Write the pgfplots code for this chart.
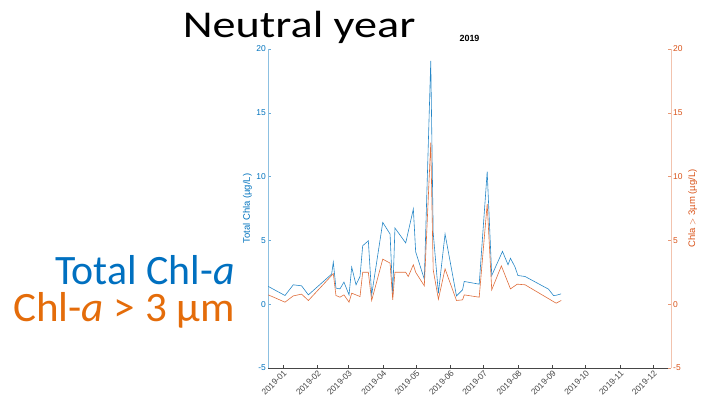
\documentclass[border=0pt]{standalone}
\usepackage{pgfplots}
\pgfplotsset{compat=1.18}
\usepackage{pgfplotstable}
\usepackage{fontspec}
\setmainfont{Carlito}
\newfontfamily\plotfont{Liberation Sans}

\definecolor{mblue}{RGB}{0,114,189}
\definecolor{morange}{RGB}{217,83,25}
\definecolor{axgray}{RGB}{70,70,70}
\definecolor{pblue}{RGB}{0,112,192}
\definecolor{porange}{RGB}{228,108,10}

% day = days since 2019-01-01, value in ug/L
\pgfplotstableread{
day   chl
-13.2 1.39
1.8   0.68
9.3   1.52
16.8  1.44
22.9  0.73
43.9  2.36
45.4  3.30
47.8  1.26
51.4  1.20
55.0  1.73
59.6  0.73
62.0  2.90
65.9  1.52
69.5  2.17
71.9  4.58
77.0  4.97
80.0  0.73
90.0  6.41
96.6  5.50
99.0  0.73
101.0 5.97
110.7 4.80
117.6 7.46
119.7 4.10
127.5 1.96
133.3 19.07
135.5 5.60
140.2 0.86
146.2 5.50
156.5 0.65
162.0 1.13
163.5 1.78
177.0 1.57
184.2 10.38
188.3 2.25
198.0 4.14
203.0 3.09
205.2 3.60
209.4 2.90
211.9 2.25
218.4 2.17
239.5 1.18
244.0 0.68
246.4 0.70
250.9 0.81
}\totaltab

\pgfplotstableread{
day   chl
-13.2 0.73
1.8   0.16
9.3   0.65
16.8  0.79
22.9  0.29
43.9  2.25
45.4  2.40
47.8  0.68
51.4  0.55
55.0  0.73
59.6  0.16
62.0  0.86
65.9  0.73
69.5  0.60
71.9  2.50
77.0  2.50
80.0  0.29
90.0  3.53
96.6  3.22
99.0  0.34
101.0 2.50
110.7 2.50
113.0 2.17
117.6 3.09
119.7 2.50
127.5 1.44
133.3 12.66
135.5 2.70
140.2 0.39
146.2 2.77
156.5 0.29
162.0 0.34
163.5 0.73
177.0 0.55
184.2 7.85
188.3 1.13
197.0 3.00
205.2 1.20
211.3 1.57
218.4 1.52
246.4 0.08
250.9 0.29
}\largetab

\pgfplotsset{
  chlaxis/.style={
    at={(268bp,36bp)}, anchor=south west,
    scale only axis, width=403bp, height=319bp,
    xmin=-13.5, xmax=350, ymin=-5, ymax=20,
    ytick={-5,0,5,10,15,20},
    tick label style={font=\plotfont\fontsize{8.5}{10}\selectfont},
    /pgf/number format/assume math mode=true,
    major tick length=3bp,
    tick style={line width=0.5bp},
  },
}

\begin{document}
\begin{tikzpicture}
\useasboundingbox (0,0) rectangle (702bp,404bp);

% left axis: total chlorophyll
\begin{axis}[chlaxis,
  axis x line*=bottom, axis y line*=left,
  x axis line style={axgray, line width=0.6bp},
  y axis line style={mblue!45, line width=0.6bp},
  xtick={0,31,59,90,120,151,181,212,243,273,304,334},
  xticklabels={2019-01,2019-02,2019-03,2019-04,2019-05,2019-06,2019-07,2019-08,2019-09,2019-10,2019-11,2019-12},
  x tick label style={rotate=45, anchor=north east, text=axgray, inner sep=1bp},
  xtick style={axgray},
  y tick label style={text=mblue, inner sep=2bp},
  ytick style={mblue!60},
  ylabel={Total Chla (\textmu g/L)},
  ylabel style={font=\plotfont\fontsize{9.5}{11}\selectfont, text=mblue, yshift=-1bp},
  title={2019},
  title style={font=\plotfont\bfseries\fontsize{9}{10}\selectfont, yshift=-2bp},
]
\addplot[mblue!85, line width=0.6bp] table[x=day, y=chl] {\totaltab};
\end{axis}

% right axis: chlorophyll in cells larger than 3 um
\begin{axis}[chlaxis,
  axis x line=none, axis y line*=right,
  y axis line style={morange!35, line width=0.6bp},
  y tick label style={text=morange, inner sep=2bp},
  ytick style={morange!60},
  ylabel={Chla $>$ 3\textmu m (\textmu g/L)},
  ylabel style={font=\plotfont\fontsize{9.5}{11}\selectfont, text=morange},
]
\addplot[morange!85, line width=0.6bp] table[x=day, y=chl] {\largetab};
\end{axis}

\node[anchor=base west, inner sep=0pt] at (182.7bp,366.3bp)
  {\scalebox{1.22}[1]{\fontsize{38}{40}\selectfont Neutral year}};
\node[anchor=base east, inner sep=0pt, text=pblue] at (235bp,119bp)
  {\fontsize{42}{44}\selectfont Total Chl-\textit{a}};
\node[anchor=base east, inner sep=0pt, text=porange] at (235bp,82.3bp)
  {\scalebox{1.03}[1]{\fontsize{42}{44}\selectfont Chl-\textit{a} > 3 μm}};
\end{tikzpicture}
\end{document}
